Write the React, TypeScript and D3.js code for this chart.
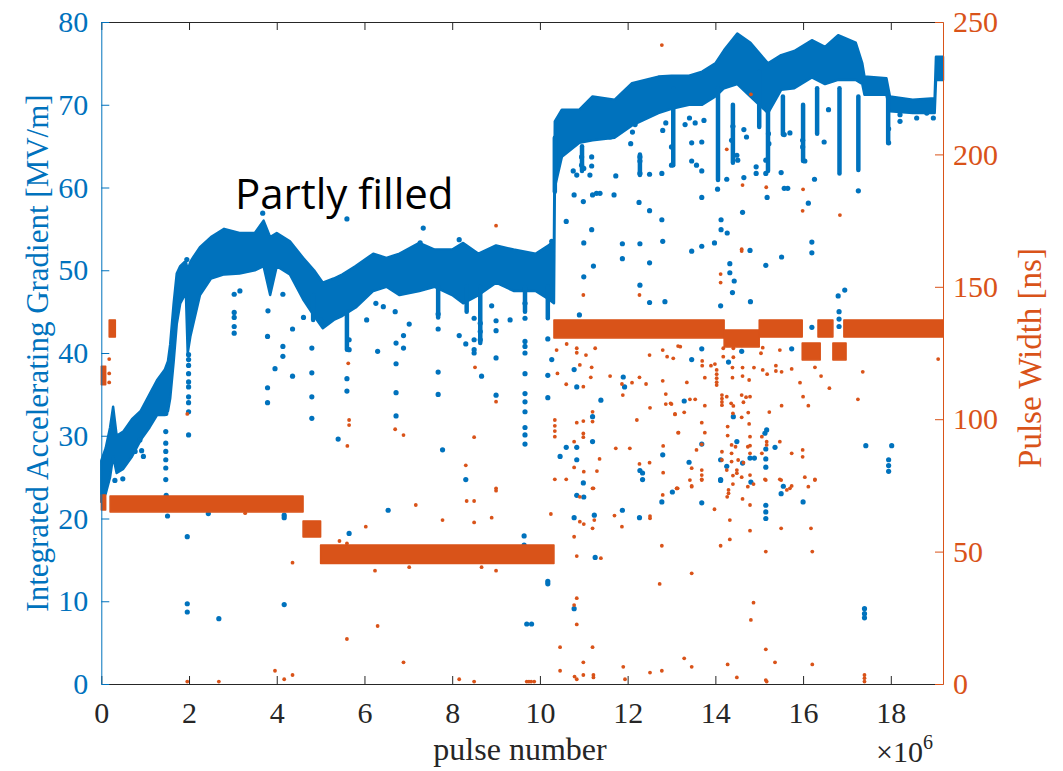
import { useEffect, useRef } from "react";
import * as d3 from "d3";

const BLUE = "#0072BD";
const ORANGE = "#D95319";

const xTicks = [0, 2, 4, 6, 8, 10, 12, 14, 16, 18];
const gradTicks = [0, 10, 20, 30, 40, 50, 60, 70, 80];
const widthTicks = [0, 50, 100, 150, 200, 250];

// dense gradient band: [pulse (1e6), low, high] in MV/m
const gradBand: [number, number, number][] = [
  [0.0, 22, 27], [0.1, 23, 28.5], [0.2, 25, 31], [0.27, 27.5, 33.5], [0.35, 25.5, 30],
  [0.5, 26, 30.5], [0.7, 27.5, 32], [0.9, 29.5, 33], [1.1, 31, 35], [1.27, 32.5, 36.7],
  [1.45, 32.5, 38], [1.52, 33, 39], [1.57, 34.5, 41], [1.65, 39, 46], [1.72, 43.5, 49.6],
  [1.8, 46, 50.5], [1.9, 47, 51], [1.93, 47, 51], [1.97, 40, 50], [2.03, 42, 51],
  [2.1, 43.6, 51.6], [2.25, 47, 52.8], [2.5, 49, 54], [2.8, 49.5, 55], [3.15, 49.6, 54.5],
  [3.5, 50, 54.5], [3.7, 50.5, 56], [3.85, 47, 54], [4.0, 50.5, 54.5], [4.3, 49.5, 53.5],
  [4.6, 46.5, 51.5], [4.85, 44.5, 50], [5.05, 43, 48.5], [5.3, 44, 49], [5.5, 44.5, 49.5],
  [5.8, 45.5, 50.5], [6.2, 47.5, 52], [6.5, 48, 51.5], [6.8, 47, 52], [7.25, 47.5, 53.3],
  [7.6, 48, 52.5], [8.0, 47, 52.5], [8.25, 46, 53.3], [8.6, 47, 52], [9.0, 48.5, 53],
  [9.4, 47.5, 52.5], [9.9, 47.5, 52], [10.2, 46.5, 53], [10.32, 46, 53.6], [10.34, 60, 68],
  [10.5, 63.7, 69.4], [10.9, 65.4, 69.4], [11.2, 65.7, 71], [11.7, 66, 70.6], [12.1, 67.5, 72.6],
  [12.7, 69, 73.4], [13.0, 69.5, 73.5], [13.4, 70, 73.5], [13.7, 70, 74], [14.0, 71, 75],
  [14.2, 72, 76.6], [14.5, 72.5, 78.6], [14.8, 71, 77.5], [15.2, 69, 75], [15.5, 71.8, 76],
  [15.8, 72, 76.5], [16.2, 73.3, 77.8], [16.5, 72.5, 77], [16.8, 73, 78.4], [17.2, 73, 77.5],
  [17.35, 72.5, 75], [17.4, 71.2, 73.4], [17.9, 71.2, 73.2], [17.98, 69.2, 71], [18.5, 69, 70.6],
  [19.0, 69, 70.8], [19.03, 73, 75.8], [19.19, 73, 75.8],
];

// short vertical runs of points dropping out of the band: [pulse, low, high]
const gradDips: [number, number, number][] = [
  [4.83, 44, 47], [5.6, 40.4, 45], [7.68, 44.3, 48], [8.33, 45, 48], [8.64, 41.2, 48],
  [9.66, 45, 48], [10.18, 44.2, 48], [10.34, 59.5, 66], [10.96, 62, 65], [12.28, 61.5, 64],
  [13.04, 62.7, 72], [14.06, 60.9, 72], [14.4, 63, 70], [15.0, 67.3, 74], [15.2, 62, 70],
  [15.54, 66.4, 71], [16.0, 63.2, 70], [16.32, 66.5, 72], [16.83, 61.7, 72], [17.26, 62.1, 71],
  [17.94, 65.4, 71],
];

// isolated gradient points: [pulse, MV/m]
const gradDots: [number, number][] = [
  [0.31, 24.6], [0.49, 24.8], [0.77, 28.1], [0.88, 29.5], [0.92, 28.2], [0.96, 27.5],
  [1.47, 32.7], [1.47, 30.5], [1.47, 29.1], [1.47, 28.1], [1.47, 27.1], [1.47, 26.1], [1.47, 24.7],
  [1.48, 22.8], [1.51, 20.3], [1.95, 51.3],
  [1.99, 39.8], [1.99, 39.2], [1.99, 38.5], [1.99, 37.5], [1.99, 36.5], [1.99, 35.9], [1.99, 34.7],
  [1.99, 34], [1.99, 32.9], [1.99, 30.1], [1.96, 17.8], [1.96, 9.7], [1.96, 8.7],
  [2.44, 20.6], [2.68, 7.9], [3.03, 47.1], [3.03, 44.9], [3.03, 44.3], [3.03, 43.2], [3.03, 42.4],
  [3.16, 47.5], [3.79, 42], [3.79, 35.8], [3.79, 34], [3.8, 45.1], [3.96, 38.1], [4.14, 40.8],
  [4.14, 39.6], [4.14, 47.1], [4.36, 42.9], [4.36, 37.2], [4.17, 20.4], [4.17, 20.1], [4.17, 9.6],
  [4.61, 44.3], [4.8, 40.6], [4.8, 37.6], [4.8, 34.7], [4.8, 32.1], [5.0, 44], [5.4, 29.6],
  [5.6, 36.9], [5.6, 35.4], [5.65, 41.6], [5.65, 40.4], [5.65, 18.2], [6.05, 44], [6.3, 40.2],
  [6.26, 46], [6.43, 45.6], [6.54, 21], [3.68, 56.9], [5.6, 56.2],
  [6.7, 45], [6.72, 41.2], [6.72, 38.7], [6.72, 35.2], [6.72, 32.4], [6.89, 42.1], [6.89, 40.6],
  [7.02, 43.5], [7.68, 44.7], [7.68, 42.9], [7.68, 37.7], [7.68, 35], [7.78, 28.3], [8.16, 42.1],
  [8.31, 41.1], [8.31, 24.7], [8.5, 44.2], [8.5, 40.4], [8.5, 40], [8.5, 41.6], [8.64, 43.6],
  [8.64, 42.6], [8.64, 41.6], [8.67, 37.2], [8.9, 45.7], [9.0, 43.9], [9.0, 42.7], [9.0, 39.4],
  [9.0, 34.9], [9.32, 44], [9.66, 46], [9.66, 44.2], [9.66, 41.4], [9.66, 40.8], [9.66, 40],
  [9.66, 37.5], [9.66, 35.1], [9.66, 34.1], [9.66, 32.9], [9.66, 31], [9.66, 30.1], [9.66, 29],
  [10.18, 41.7], [10.18, 37.3], [10.18, 34.6], [10.27, 39.2],
  [10.9, 44.6], [10.78, 38], [10.84, 35.9], [11.0, 49.2], [11.0, 53.3], [11.22, 50.5], [11.39, 34.3],
  [11.2, 32.3], [11.2, 29.3], [11.88, 53.2], [11.88, 51.4], [11.9, 37.1], [11.93, 35.9],
  [12.28, 53.2], [12.28, 48.2], [12.5, 50.9], [12.5, 46.1], [12.85, 46.2], [12.8, 53.5],
  [10.46, 27.5], [10.6, 28.6], [10.84, 28.6], [10.84, 27.1], [10.99, 24.3], [12.28, 25.8],
  [12.34, 25.5], [12.34, 24.7], [12.8, 27.7],
  [9.64, 17.9], [9.64, 16.8], [10.18, 12.4], [10.18, 12.1], [9.7, 7.25], [9.81, 7.25], [10.78, 9.1],
  [10.78, 20.1], [10.84, 22.8], [11.0, 22.6], [11.24, 20.4], [11.26, 15.3], [11.88, 21],
  [12.27, 20.1], [12.78, 22], [13.02, 23.2],
  [13.46, 52.3], [13.69, 52.9], [13.98, 53.3], [14.79, 52.4], [14.33, 50.8], [14.33, 49.7],
  [14.43, 48.7], [14.39, 47.3], [14.12, 45.7], [14.8, 46.2], [15.15, 50.6], [15.51, 51.6],
  [16.2, 53.4], [16.2, 52.1], [16.8, 46.9], [16.95, 47.6], [16.82, 45], [16.82, 44.1], [16.82, 43.2],
  [16.2, 43.1], [13.69, 40.5], [13.46, 39.2], [14.3, 38.9], [15.74, 40.5], [14.6, 40.2],
  [13.29, 34.2], [14.41, 32.3], [13.69, 29], [14.49, 29.3], [15.17, 30.7], [15.13, 30.3],
  [15.36, 28.6], [15.15, 28.4], [15.15, 27.2], [15.15, 26.2], [14.79, 27.3], [14.89, 27.3],
  [14.12, 27.1], [14.26, 26.3], [14.62, 26.7], [13.4, 26.8], [14.12, 24.7], [14.81, 24.4],
  [15.55, 23.9], [17.43, 28.8], [18.02, 28.8], [17.95, 27.1], [17.95, 26.4], [17.95, 25.7],
  [13.69, 21.9], [14.12, 24.6], [15.15, 21.6], [15.15, 20.8], [15.15, 20], [15.5, 23], [16.0, 22],
  [17.4, 9.1], [17.4, 8.5], [17.4, 8.0],
  [13.0, 64.9], [13.0, 62.7], [13.31, 67.6], [13.41, 68.4], [13.54, 67.8], [13.74, 68.1],
  [13.46, 65.4], [13.69, 65.5], [13.46, 63.2], [13.57, 62.7], [13.69, 62], [13.69, 58.8],
  [14.05, 59.8], [14.26, 61], [14.13, 56.1], [14.13, 54.9], [14.27, 54.5], [14.65, 61.2],
  [14.62, 57], [14.37, 65.7], [14.65, 67], [14.71, 66.1], [14.4, 67.4], [14.49, 63.9],
  [14.51, 63.3], [14.93, 62.5], [14.93, 61.7], [15.15, 63.3], [15.15, 61.7], [15.21, 66.5],
  [15.22, 65.3], [15.18, 58.8], [15.5, 61.8], [15.57, 59.9], [15.65, 59.9], [15.57, 66.4],
  [15.7, 66.6], [15.99, 65.7], [15.99, 64.9], [16.04, 63.2], [16.26, 61], [16.12, 58.1],
  [16.48, 65.5], [16.58, 69.4], [17.26, 59.6], [17.95, 67.1], [17.95, 65.4], [18.21, 68.8],
  [18.21, 68], [18.59, 68.4], [18.82, 69], [18.97, 68.4],
  [7.34, 55.1], [7.27, 53.3], [8.16, 53.7], [10.27, 53.5], [10.76, 62], [10.84, 61.5],
  [10.78, 59.1], [10.99, 58.3], [10.6, 55.9], [11.18, 54.9], [10.95, 63.7], [10.95, 62.7],
  [11.0, 62.3], [11.18, 63.7], [11.18, 62.6], [11.14, 61.5], [11.2, 59.1], [11.29, 59.3],
  [11.37, 59.3], [11.69, 59.1], [11.73, 61.4], [11.6, 66.1], [11.67, 66.5], [12.07, 65.3],
  [12.11, 66.7], [12.17, 67.6], [12.28, 63.7], [12.28, 63.2], [12.28, 61.7], [12.26, 58.2],
  [12.5, 57.2], [12.5, 61.6], [12.78, 61.7], [12.78, 56.1], [12.8, 66.9], [12.87, 67.8],
];

// pulse width plateaus: [from, to, low, high] in ns
const widthBands: [number, number, number, number][] = [
  [0.0, 0.1, 113, 120], [0.0, 0.1, 65.7, 71.4], [0.18, 0.32, 131, 137.5], [0.2, 4.6, 65, 71],
  [4.6, 5.0, 55.5, 61.6], [5.0, 10.32, 45.5, 52.5], [10.32, 14.2, 130.7, 137.5],
  [14.2, 15.0, 127.3, 133.7], [15.0, 15.98, 131, 137.5], [15.98, 16.39, 122.4, 128.8],
  [16.34, 16.68, 131, 137.5], [16.68, 16.98, 122.4, 128.8], [16.93, 19.19, 131, 137.5],
];

// isolated pulse width points: [pulse, ns]
const widthDots: [number, number][] = [
  [0.18, 122.7], [0.18, 117.3], [0.18, 113.9], [1.96, 102], [5.63, 121.1], [5.65, 99.7],
  [5.65, 97.8], [5.61, 89.9], [8.52, 119.6], [9.0, 106.6], [6.7, 96.2], [6.89, 94], [8.5, 93.2],
  [8.31, 82.6], [10.99, 146.9], [12.27, 146.9],
  [10.38, 126.1], [10.61, 128.4], [10.84, 126.8], [10.84, 125.1], [11.05, 124.2], [11.26, 126.8],
  [10.91, 120.5], [11.18, 119.6], [10.4, 117.3], [10.6, 113.2], [10.99, 112.3], [11.16, 115.8],
  [11.6, 116.3], [11.87, 113.3], [12.1, 113.8], [12.27, 115.8], [12.42, 113.3], [11.89, 109.1],
  [12.51, 104.3], [12.5, 124.2], [12.8, 126.1], [12.9, 123.6], [13.15, 127.6], [12.8, 114.5],
  [12.87, 109.5], [12.87, 105.7], [13.0, 105.7], [13.08, 101.8], [13.15, 94.9],
  [10.34, 99.7], [10.34, 97.5], [10.34, 95.5], [10.34, 93.4],
  [10.84, 98.7], [10.99, 99.3], [10.99, 94.6], [10.99, 93.2], [10.78, 91.5], [11.2, 102.8],
  [11.2, 99.1], [11.73, 89], [12.05, 89], [11.36, 85], [10.78, 81.8], [11.0, 80.2], [11.3, 80.4],
  [12.27, 83.1], [12.5, 83.6], [12.81, 79.8], [12.81, 89.9], [12.21, 99.7], [13.14, 73.9],
  [11.2, 73.9], [10.34, 77.3], [10.6, 77.3], [9.0, 73.9],
  [9.0, 73], [7.17, 67.6], [8.33, 69.1], [8.5, 69.1], [7.78, 61.9], [8.5, 61], [8.9, 62.8],
  [10.25, 64.2], [10.91, 61.3], [11.0, 60.4], [11.24, 61.9], [11.2, 58.8], [10.78, 55.6],
  [10.84, 48.3], [11.39, 47.5], [11.7, 63.6], [11.87, 59.4], [12.51, 63.4], [12.51, 62.6],
  [11.22, 73.9], [10.91, 70.7], [12.8, 71.4], [13.12, 73.9], [12.78, 52.2], [12.73, 37.8],
  [7.02, 44.1], [8.67, 44.1], [9.0, 42.8], [10.84, 32.4], [10.78, 29.8], [10.84, 22.5],
  [10.46, 13.9], [11.2, 13.9], [6.89, 8.2], [10.99, 8.2], [11.9, 6.5], [12.51, 4.3], [12.78, 5.0],
  [10.46, 5.0], [10.79, 2.8], [10.84, 1.8], [10.99, 3.4], [11.22, 3.4], [11.22, 2.5], [11.94, 1.8],
  [8.16, 1.8], [8.5, 0.9], [9.7, 0.9], [9.75, 0.9], [9.8, 0.9], [9.87, 0.9],
  [3.28, 64.5], [4.36, 45.8], [5.43, 54], [5.6, 53.1], [6.03, 59.4], [6.24, 42.8], [6.3, 21.9],
  [5.6, 17], [3.96, 5.0], [4.17, 1.8], [4.36, 3.4], [1.96, 0.9], [2.68, 0.9],
  [14.6, 163.5], [14.12, 154.8], [14.12, 151.6], [13.2, 127.4], [14.18, 126.8], [14.41, 126.8],
  [14.18, 123.6], [14.41, 123.4], [13.7, 122], [13.7, 120.2], [13.99, 120.8], [13.9, 120.2],
  [13.04, 123], [13.35, 113.9], [13.76, 115.7], [14.39, 119.5], [14.39, 115.7], [14.62, 119.5],
  [14.62, 116.3], [14.77, 114.8], [14.88, 119.5], [15.08, 118.6], [15.18, 117], [15.38, 120.2],
  [15.38, 118.2], [15.51, 117.9], [15.08, 127], [15.04, 124.9], [15.47, 126.1], [15.74, 119],
  [15.93, 113.8], [16.0, 108.5], [16.12, 105.1], [16.27, 119.6], [16.41, 116.3], [16.6, 111.7],
  [17.25, 107.5], [17.36, 117.9], [19.08, 122.7],
  [14.03, 118.6], [14.03, 117], [14.03, 115.5], [14.03, 114], [14.03, 112.9], [14.15, 109.1],
  [14.15, 107.8], [14.15, 106.5], [14.15, 105.3], [14.26, 108.5], [14.36, 106], [14.41, 105],
  [14.4, 102.2], [14.6, 109.1], [14.64, 106.4], [14.7, 108.3], [14.79, 108.5], [14.75, 102.5],
  [14.6, 100.7], [14.77, 98.2], [14.79, 93.4], [15.23, 102.7], [15.51, 105.1], [12.98, 106],
  [13.08, 102], [13.29, 102.6], [13.16, 94.9], [13.42, 107.5], [13.54, 107.5], [13.76, 105.1],
  [13.69, 98.7], [13.76, 94.9], [13.57, 88.4], [13.69, 90.5],
  [14.28, 97.2], [14.28, 93.8], [14.37, 90.3], [14.46, 89.6], [14.37, 87.1], [14.15, 87.7],
  [14.15, 84.6], [14.37, 84], [14.52, 84.6], [14.64, 83.6], [14.74, 89.6], [14.79, 90],
  [14.79, 87.1], [15.06, 93.4], [15.17, 91.5], [15.17, 90.3], [15.06, 87.1], [15.47, 91.5],
  [15.74, 87.1], [15.99, 88.4], [15.99, 85.8],
  [13.46, 81.5], [13.69, 80.8], [13.69, 78.9], [13.69, 77.3], [13.42, 77], [13.46, 74.5],
  [14.26, 80.8], [14.4, 78.7], [14.49, 80.8], [14.49, 79.6], [14.6, 78.1], [14.79, 78.9],
  [14.74, 74.5], [15.13, 77.3], [15.47, 77.3], [15.74, 74.8], [16.04, 78.1], [16.27, 77.3],
  [13.12, 73.9], [13.46, 74.8], [13.69, 77], [14.3, 73.3], [14.3, 72], [14.27, 70.7],
  [14.4, 75.5], [14.62, 69.9], [14.79, 67.6], [14.87, 75.5], [15.15, 77], [15.5, 77],
  [15.63, 73.3], [15.7, 73.9], [16.12, 74.5], [16.27, 77], [13.98, 66], [14.33, 61.9],
  [14.33, 54.6], [14.12, 52.2], [14.79, 57.9], [15.5, 58.8], [16.18, 58.8], [15.15, 50],
  [16.21, 50], [13.46, 41.8], [14.87, 30.7], [14.81, 24.2], [15.15, 13.1], [15.36, 8.2],
  [14.28, 7.4], [16.21, 7.4], [13.29, 9.7], [13.46, 6.5], [14.49, 2.5], [15.15, 1.5],
  [15.17, 0.9], [17.4, 3.4], [17.4, 2.2], [17.4, 0.9],
  [14.81, 222.7], [14.26, 201.9], [14.62, 188.4], [15.16, 187.6], [16.0, 186.8], [15.99, 178.7],
  [16.84, 177.1], [14.6, 164.2], [12.78, 241.3], [9.0, 173.1],
];

export default function App() {
  const ref = useRef<SVGSVGElement>(null);

  useEffect(() => {
    if (!ref.current) return;
    const width = 1063;
    const height = 771;
    const plot = { left: 101.3, right: 943, top: 22, bottom: 684 };
    const serif = "'Liberation Serif', 'Times New Roman', serif";

    const svg = d3.select(ref.current);
    svg.selectAll("*").remove();
    svg.attr("width", width).attr("height", height);

    const x = d3.scaleLinear().domain([0, 19.19]).range([plot.left, plot.right]);
    const yL = d3.scaleLinear().domain([0, 80]).range([plot.bottom, plot.top]);
    const yR = d3.scaleLinear().domain([0, 250]).range([plot.bottom, plot.top]);

    // gradient band
    const area = d3.area<[number, number, number]>()
      .x(d => x(d[0]))
      .y0(d => yL(d[1]))
      .y1(d => yL(d[2]));

    svg.append("path")
      .datum(gradBand)
      .attr("fill", BLUE)
      .attr("stroke", BLUE)
      .attr("stroke-width", 2.5)
      .attr("stroke-linejoin", "round")
      .attr("d", area);

    svg.append("g")
      .selectAll("line")
      .data(gradDips)
      .join("line")
      .attr("x1", d => x(d[0]))
      .attr("x2", d => x(d[0]))
      .attr("y1", d => yL(d[1]))
      .attr("y2", d => yL(d[2]))
      .attr("stroke", BLUE)
      .attr("stroke-width", 4.5)
      .attr("stroke-linecap", "round");

    svg.append("g")
      .selectAll("circle")
      .data(gradDots)
      .join("circle")
      .attr("cx", d => x(d[0]))
      .attr("cy", d => yL(d[1]))
      .attr("r", 2.6)
      .attr("fill", BLUE);

    // pulse width
    svg.append("g")
      .selectAll("rect")
      .data(widthBands)
      .join("rect")
      .attr("x", d => x(d[0]))
      .attr("width", d => x(d[1]) - x(d[0]))
      .attr("y", d => yR(d[3]))
      .attr("height", d => yR(d[2]) - yR(d[3]))
      .attr("fill", ORANGE)
      .attr("stroke", ORANGE)
      .attr("stroke-width", 1.5)
      .attr("stroke-linejoin", "round");

    svg.append("g")
      .selectAll("circle")
      .data(widthDots)
      .join("circle")
      .attr("cx", d => x(d[0]))
      .attr("cy", d => yR(d[1]))
      .attr("r", 1.9)
      .attr("fill", ORANGE);

    // axes
    const styleText = (g: any, color: string) =>
      g.selectAll("text")
        .attr("fill", color)
        .style("font-family", serif)
        .style("font-size", "30px");

    svg.append("g")
      .attr("transform", `translate(0,${plot.bottom})`)
      .call(d3.axisBottom(x).tickValues(xTicks).tickSize(-8).tickSizeOuter(0).tickPadding(18))
      .call(g => g.selectAll("line,path").attr("stroke", "#262626"))
      .call(g => styleText(g, "#262626"));

    svg.append("g")
      .attr("transform", `translate(0,${plot.top})`)
      .call(d3.axisTop(x).tickValues(xTicks).tickSize(-8).tickSizeOuter(0).tickFormat(() => ""))
      .call(g => g.selectAll("line,path").attr("stroke", "#262626"));

    svg.append("g")
      .attr("transform", `translate(${plot.left},0)`)
      .call(d3.axisLeft(yL).tickValues(gradTicks).tickSize(-8).tickSizeOuter(0).tickPadding(13))
      .call(g => g.selectAll("line,path").attr("stroke", BLUE))
      .call(g => styleText(g, BLUE));

    svg.append("g")
      .attr("transform", `translate(${plot.right},0)`)
      .call(d3.axisRight(yR).tickValues(widthTicks).tickSize(-8).tickSizeOuter(0).tickPadding(10))
      .call(g => g.selectAll("line,path").attr("stroke", ORANGE))
      .call(g => styleText(g, ORANGE));

    // labels
    svg.append("text")
      .attr("x", 520)
      .attr("y", 760)
      .attr("text-anchor", "middle")
      .attr("fill", "#262626")
      .style("font-family", serif)
      .style("font-size", "32px")
      .text("pulse number");

    const exp = svg.append("text")
      .attr("x", 876)
      .attr("y", 762)
      .attr("fill", "#262626")
      .style("font-family", serif)
      .style("font-size", "30px");
    exp.append("tspan").text("×10");
    exp.append("tspan").attr("dy", -13).style("font-size", "20px").text("6");

    svg.append("text")
      .attr("transform", `translate(48,${(plot.top + plot.bottom) / 2}) rotate(-90)`)
      .attr("text-anchor", "middle")
      .attr("fill", BLUE)
      .style("font-family", serif)
      .style("font-size", "31px")
      .text("Integrated Accelerating Gradient [MV/m]");

    svg.append("text")
      .attr("transform", `translate(1041,358) rotate(-90)`)
      .attr("text-anchor", "middle")
      .attr("fill", ORANGE)
      .style("font-family", serif)
      .style("font-size", "33px")
      .text("Pulse Width [ns]");

    svg.append("text")
      .attr("x", 235)
      .attr("y", 209)
      .attr("fill", "#000")
      .style("font-family", "'Open Sans', sans-serif")
      .style("font-size", "42px")
      .text("Partly filled");
  }, []);

  return <svg ref={ref} style={{ position: "absolute", left: 0, top: 0 }} />;
}
